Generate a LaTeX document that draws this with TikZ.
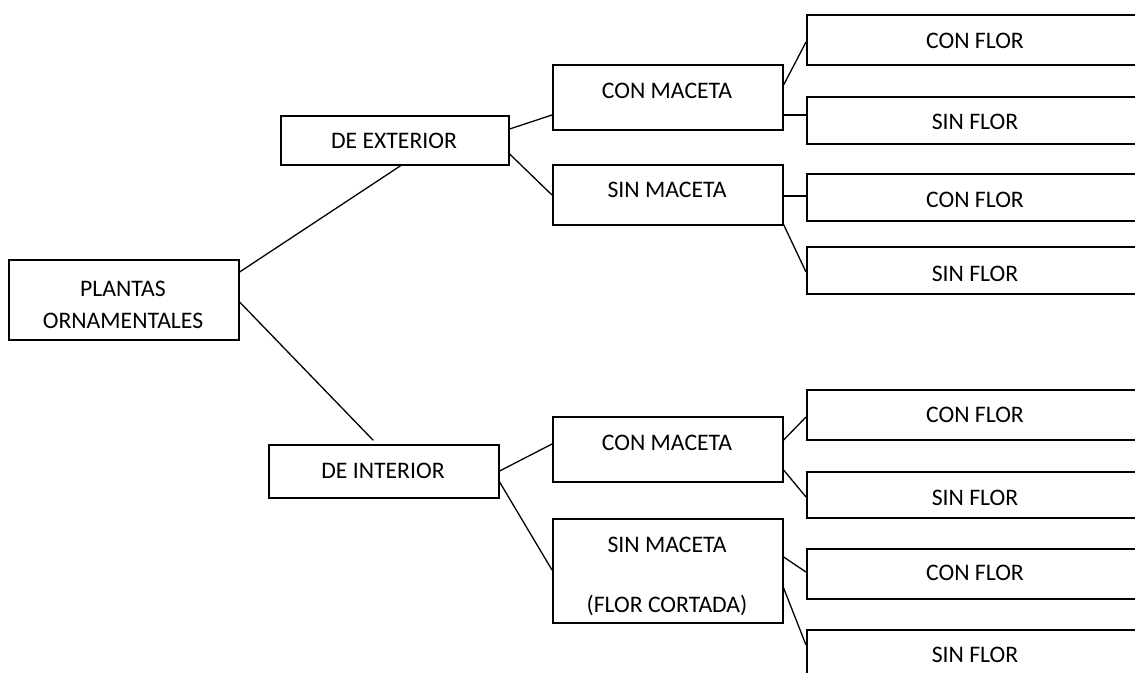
\documentclass[tikz,border=0pt]{standalone}
\usepackage{fontspec}
\setmainfont{Carlito}
\usetikzlibrary{positioning}
\begin{document}
\begin{tikzpicture}[x=1pt, y=-1pt,
  box/.style={draw, line width=1.6pt, inner sep=0pt, anchor=north west},
  txt/.style={inner sep=0pt, font=\fontsize{23.7}{32}\selectfont, align=center},
  link/.style={line width=1.3pt}]
\useasboundingbox (0,0) rectangle (1135,672);
\clip (0,0) rectangle (1135,672);

% root and first level
\node[box, minimum width=230pt, minimum height=80pt] (P) at (8,259) {};
\node[box, minimum width=228pt, minimum height=49pt] (E) at (280,115) {};
\node[box, minimum width=230pt, minimum height=53pt] (I) at (268,444) {};

% second level
\node[box, minimum width=230pt, minimum height=65pt] (EC) at (552,64) {};
\node[box, minimum width=230pt, minimum height=60pt] (ES) at (552,164) {};
\node[box, minimum width=230pt, minimum height=65pt] (IC) at (552,416) {};
\node[box, minimum width=230pt, minimum height=104pt] (IS) at (552,518) {};

% leaves (running off the right edge)
\node[box, minimum width=338pt, minimum height=50pt] (R1) at (806,14) {};
\node[box, minimum width=338pt, minimum height=47pt] (R2) at (806,96) {};
\node[box, minimum width=338pt, minimum height=47pt] (R3) at (806,173) {};
\node[box, minimum width=338pt, minimum height=47pt] (R4) at (806,246) {};
\node[box, minimum width=338pt, minimum height=50pt] (R5) at (806,389) {};
\node[box, minimum width=338pt, minimum height=46pt] (R6) at (806,471) {};
\node[box, minimum width=338pt, minimum height=50pt] (R7) at (806,548) {};
\node[box, minimum width=338pt, minimum height=52pt] (R8) at (806,629) {};

% labels
\node[txt] (Pt) at (123,304.5) {PLANTAS\\ORNAMENTALES};
\node[txt] (Et) at (394,141) {DE EXTERIOR};
\node[txt] (It) at (383,470.5) {DE INTERIOR};
\node[txt] (ECt) at (667,91) {CON MACETA};
\node[txt] (ESt) at (667,190) {SIN MACETA};
\node[txt] (ICt) at (667,443) {CON MACETA};
\node[txt] (ISt) at (667,576) {SIN MACETA\\[28pt](FLOR CORTADA)};
\node[txt] (R1t) at (975,41) {CON FLOR};
\node[txt] (R2t) at (975,122) {SIN FLOR};
\node[txt] (R3t) at (975,200) {CON FLOR};
\node[txt] (R4t) at (975,273.5) {SIN FLOR};
\node[txt] (R5t) at (975,415) {CON FLOR};
\node[txt] (R6t) at (975,497.5) {SIN FLOR};
\node[txt] (R7t) at (975,573) {CON FLOR};
\node[txt] (R8t) at (975,655) {SIN FLOR};

% connectors
\draw[link] ([yshift=-13pt]P.north east) -- ([xshift=6pt]E.south);
\draw[link, shorten >=5pt] ([yshift=-43pt]P.north east) -- ([xshift=-7pt]I.north);

\draw[link] ([yshift=-14pt]E.north east) -- ([yshift=-51pt]EC.north west);
\draw[link] ([yshift=-39pt]E.north east) -- ([yshift=-31pt]ES.north west);
\draw[link] ([yshift=-27pt]I.north east) -- ([yshift=-28pt]IC.north west);
\draw[link] ([yshift=-38pt]I.north east) -- ([yshift=-52pt]IS.north west);

\draw[link] ([yshift=-21pt]EC.north east) -- ([yshift=-28pt]R1.north west);
\draw[link] ([yshift=-51pt]EC.north east) -- ([yshift=-19pt]R2.north west);
\draw[link] ([yshift=-32pt]ES.north east) -- ([yshift=-23pt]R3.north west);
\draw[link] ([yshift=1pt]ES.south east) -- ([yshift=-26pt]R4.north west);
\draw[link] ([yshift=-24pt]IC.north east) -- ([yshift=-28pt]R5.north west);
\draw[link] ([yshift=-54pt]IC.north east) -- ([yshift=-26pt]R6.north west);
\draw[link] ([yshift=-39pt]IS.north east) -- ([yshift=-24pt]R7.north west);
\draw[link] ([yshift=-70pt]IS.north east) -- ([yshift=-16pt]R8.north west);
\end{tikzpicture}
\end{document}
